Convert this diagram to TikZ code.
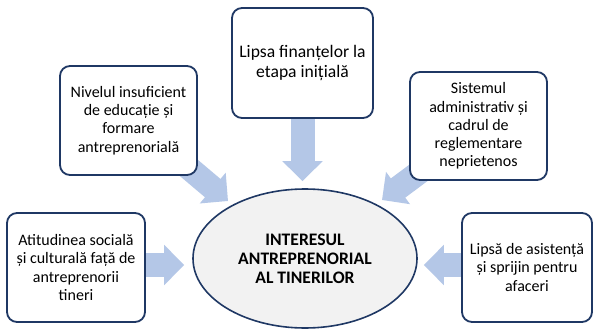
\documentclass[tikz,border=0pt]{standalone}
\usepackage{fontspec}
\setmainfont{Carlito}
\usetikzlibrary{shapes.geometric,arrows.meta,backgrounds,calc}
\definecolor{navy}{HTML}{1F3864}
\definecolor{arrblue}{HTML}{B4C7E7}
\definecolor{ellfill}{HTML}{F2F2F2}
\begin{document}
\begin{tikzpicture}[x=1pt,y=-1pt,
  boxnode/.style={draw=navy,line width=1.8pt,rounded corners=10pt,fill=white,
    align=center,inner sep=0pt,font=\fontsize{16}{18.2}\selectfont},
  blk/.style={draw=arrblue,line width=24pt,-{Triangle[width=39pt,length=20pt]}}]
\useasboundingbox (0,0) rectangle (594,329);
\node[boxnode,minimum width=137pt,minimum height=109pt] (nivel) at (128.5,120.5)
  {Nivelul insuficient\\de educație și\\formare\\antreprenorială};
\node[boxnode,minimum width=141pt,minimum height=110pt,font=\fontsize{17.6}{19.4}\selectfont] (fin) at (302.5,63)
  {Lipsa finanțelor la\\etapa inițială};
\node[boxnode,minimum width=137pt,minimum height=108pt] (sist) at (478.5,126)
  {Sistemul\\administrativ și\\cadrul de\\reglementare\\neprietenos};
\node[boxnode,minimum width=138pt,minimum height=109pt] (atit) at (76,267.5)
  {Atitudinea socială\\și culturală față de\\antreprenorii\\tineri};
\node[boxnode,minimum width=130pt,minimum height=109pt] (lipsa) at (527,267.5)
  {Lipsă de asistență\\și sprijin pentru\\afaceri};
\node[ellipse,draw=navy,line width=1.6pt,fill=ellfill,minimum width=224pt,minimum height=139pt,
  inner sep=0pt,align=center,font=\bfseries\fontsize{17.6}{18.8}\selectfont] (ell) at (305,258.5)
  {INTERESUL\\ANTREPRENORIAL\\AL TINERILOR};
\coordinate (tipnw) at (228,201);
\coordinate (tipne) at (382,200);
\begin{pgfonlayer}{background}
\fill[white] (0,0) rectangle (594,329);
\draw[blk] ($(nivel.south east)+(-15,-13)$) -- (tipnw);
\draw[blk] ($(sist.south west)+(20,-16)$) -- (tipne);
\draw[blk,shorten >=7pt] (fin.south) -- (fin.south |- ell.north);
\draw[blk,shorten >=8pt] ([yshift=2.5pt]atit.east) -- ([yshift=2.5pt]atit.east -| ell.west);
\draw[blk,shorten >=6pt] ([yshift=2.5pt]lipsa.west) -- ([yshift=2.5pt]lipsa.west -| ell.east);
\end{pgfonlayer}
\end{tikzpicture}
\end{document}
